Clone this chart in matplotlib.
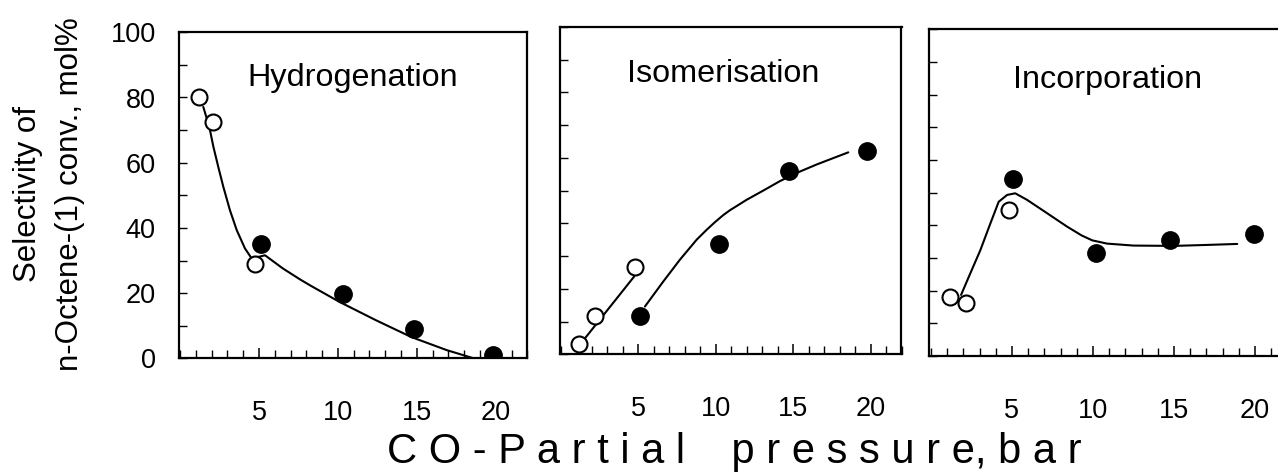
import matplotlib
matplotlib.use("Agg")
import matplotlib.pyplot as plt
from matplotlib.ticker import MultipleLocator, FixedLocator

plt.rcParams["font.family"] = ["Liberation Sans", "DejaVu Sans"]

panel_titles = ["Hydrogenation", "Isomerisation", "Incorporation"]

# open circles (low CO pressure runs)
open_x = [[1.2, 2.1, 4.75], [1.17, 2.18, 4.77], [1.15, 2.19, 4.8]]
open_y = [[80.0, 72.5, 29.0], [3.1, 11.7, 26.8], [18.2, 16.3, 44.7]]

# filled circles
filled_x = [[5.15, 10.3, 14.84, 19.8], [5.1, 10.2, 14.75, 19.8], [5.07, 10.2, 14.78, 19.92]]
filled_y = [[35.0, 19.8, 9.1, 0.9], [11.7, 33.6, 55.9, 62.0], [54.1, 31.6, 35.5, 37.3]]

# hand-drawn trend lines
hydro_line_x = [1.47, 1.85, 2.11, 2.42, 2.74, 3.16, 3.59, 4.11, 4.54, 5.38, 6.5, 7.6,
                8.3, 10.1, 12.4, 14.66, 16.9, 18.6]
hydro_line_y = [77.1, 71.0, 64.9, 58.7, 52.6, 45.4, 39.3, 33.7, 30.6, 31.6, 27.6, 24.2,
                22.2, 17.3, 11.7, 6.5, 2.5, 0.0]

isom_open_line_x = [1.43, 4.73]
isom_open_line_y = [4.2, 23.8]
isom_line_x = [5.42, 6.6, 7.68, 8.76, 9.4, 9.95, 10.5, 10.91, 11.99, 13.06, 14.14, 15.22,
               16.52, 18.56]
isom_line_y = [14.6, 22.2, 28.9, 35.0, 38.0, 40.4, 42.6, 44.0, 47.2, 50.0, 52.9, 55.4,
               58.0, 61.7]

incorp_line_x = [1.86, 2.43, 3.05, 3.67, 4.18, 4.7, 5.2, 5.93, 7.17, 8.4, 9.3, 9.95,
                 10.87, 12.5, 14.98, 17.04, 18.9]
incorp_line_y = [18.7, 25.3, 32.4, 40.6, 47.2, 49.3, 49.8, 47.8, 43.7, 39.6, 36.9, 35.4,
                 34.4, 33.8, 33.7, 34.0, 34.3]

lines = [
    [(hydro_line_x, hydro_line_y)],
    [(isom_open_line_x, isom_open_line_y), (isom_line_x, isom_line_y)],
    [(incorp_line_x, incorp_line_y)],
]
title_pos = [(10.95, 86), (10.5, 85.5), (10.9, 84.4)]

x_ticks = [5, 10, 15, 20]
y_ticks = [0, 20, 40, 60, 80, 100]

W, H = 1278, 473
fig = plt.figure(figsize=(W / 100, H / 100), dpi=100)

# axes boxes in pixels: left, top, right, bottom, x at left edge
boxes = [(179.3, 32.3, 527.3, 358.3, -0.05),
         (559.5, 27.0, 901.5, 354.3, -0.1),
         (929.3, 29.3, 1287.5, 356.0, -0.1)]

for i, (l, t, r, b, x_left) in enumerate(boxes):
    ax = fig.add_axes([l / W, (H - b) / H, (r - l) / W, (b - t) / H])
    ax.set_xlim(x_left, 22)
    ax.set_ylim(0, 100)

    for lx, ly in lines[i]:
        ax.plot(lx, ly, color="black", lw=1.5, zorder=2, solid_capstyle="round",
                solid_joinstyle="round")
    ax.plot(open_x[i], open_y[i], "o", ms=11.5, mfc="white", mec="black", mew=1.5,
            ls="none", zorder=3)
    ax.plot(filled_x[i], filled_y[i], "o", ms=12.5, mfc="black", mec="black",
            ls="none", zorder=3)

    ax.text(*title_pos[i], panel_titles[i], fontsize=23.3, ha="center", va="center")

    for s in ax.spines.values():
        s.set_linewidth(1.6)

    ax.xaxis.set_major_locator(FixedLocator(x_ticks))
    ax.xaxis.set_minor_locator(MultipleLocator(1))
    ax.yaxis.set_major_locator(FixedLocator(y_ticks))
    ax.yaxis.set_minor_locator(MultipleLocator(10))
    ax.tick_params(axis="x", which="major", direction="in", length=7, width=1.1,
                   labelsize=19.5, pad=30)
    ax.tick_params(axis="x", which="minor", direction="in", length=5.5, width=1.0)
    ax.tick_params(axis="y", which="both", direction="in", length=5.5, width=1.0,
                   labelsize=19.5, pad=17)
    if i > 0:
        ax.tick_params(axis="y", labelleft=False)

fig.text(49 / W, (H - 194) / H, "Selectivity of\nn-Octene-(1) conv., mol%",
         rotation=90, ha="center", va="center", multialignment="center",
         fontsize=22.5, linespacing=1.5)

fig.text(734 / W, (H - 463) / H, "C O - P a r t i a l    p r e s s u r e, b a r",
         ha="center", va="baseline", fontsize=30)

plt.savefig("out.png", dpi=100)
